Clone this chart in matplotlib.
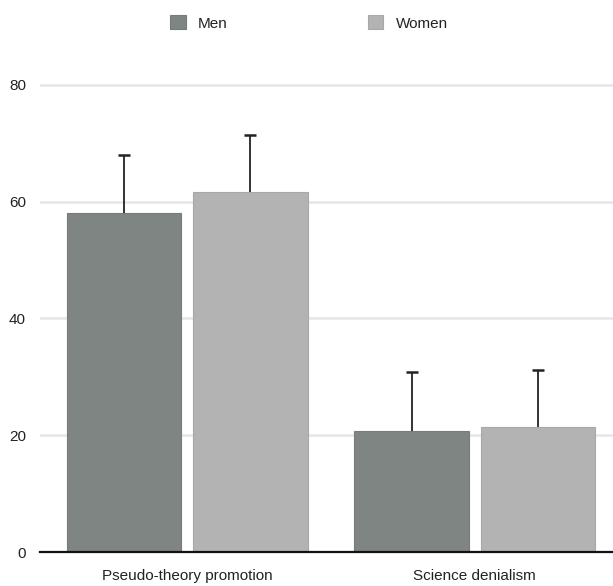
import matplotlib
matplotlib.use("Agg")
import matplotlib.pyplot as plt
from matplotlib import font_manager
import numpy as np

categories = ["Pseudo-theory promotion", "Science denialism"]
men = [58.0, 20.8]
women = [61.6, 21.4]
men_err = [10.0, 10.0]
women_err = [9.8, 9.8]

names = {f.name for f in font_manager.fontManager.ttflist}
font = "Liberation Sans Narrow" if "Liberation Sans Narrow" in names else "Liberation Sans"
plt.rcParams["font.family"] = [font, "DejaVu Sans"]

fig = plt.figure(figsize=(6.13, 5.86), dpi=100)
ax = fig.add_axes([40 / 613, 34 / 586, 1 - 40 / 613, (552 - 73.3) / 586])

x = np.arange(len(categories))
w = 0.397
off = 0.22

ax.bar(x - off, men, w, color="#7f8582", edgecolor="#777c79", linewidth=0.8,
       label="Men", zorder=2)
ax.bar(x + off, women, w, color="#b3b3b3", edgecolor="#a8a8a8", linewidth=0.8,
       label="Women", zorder=2)
for pos, vals, errs in [(x - off, men, men_err), (x + off, women, women_err)]:
    eb = ax.errorbar(pos, vals, yerr=[[0] * len(vals), errs], fmt="none",
                     ecolor="#222222", elinewidth=1.3, capsize=4, capthick=1.8,
                     zorder=3)
    eb[1][0].set_visible(False)  # drop the lower cap

ax.set_xlim(-0.511, 1.48)
ax.set_ylim(0, 82)
ax.set_yticks([0, 20, 40, 60, 80])
ax.set_xticks(x)
ax.set_xticklabels(categories)
ax.grid(axis="y", color="#e6e6e6", linewidth=1.8, zorder=0)
ax.set_axisbelow(True)

for s in ["top", "right", "left"]:
    ax.spines[s].set_visible(False)
ax.spines["bottom"].set_color("#111111")
ax.spines["bottom"].set_linewidth(1.6)
ax.tick_params(axis="both", length=0, labelsize=11, labelcolor="#222222")
ax.tick_params(axis="y", pad=10)
ax.tick_params(axis="x", pad=12)

fig.legend(loc="center", bbox_to_anchor=(309 / 613, 1 - 23 / 586), ncol=2,
           frameon=False, fontsize=11, handlelength=1.0, handleheight=1.0,
           columnspacing=9.2, handletextpad=0.8, labelcolor="#222222")

fig.savefig("out.png", dpi=100)
